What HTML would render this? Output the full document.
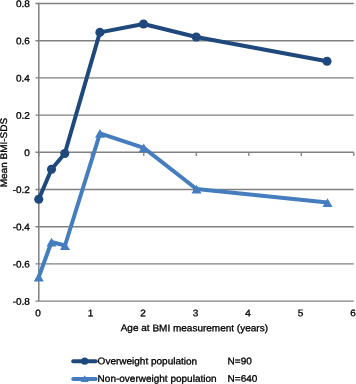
<!DOCTYPE html>
<html><head><meta charset="utf-8"><title>Chart</title>
<style>
html,body{margin:0;padding:0;background:#fff;}
body{width:356px;height:384px;position:relative;overflow:hidden;font-family:"Liberation Sans",sans-serif;}
</style></head><body>
<svg width="356" height="384" viewBox="0 0 356 384" style="position:absolute;left:0;top:0;will-change:transform">
<line x1="35.5" y1="3.50" x2="353.7" y2="3.50" stroke="#808080" stroke-width="1.4"/>
<line x1="35.5" y1="40.70" x2="353.7" y2="40.70" stroke="#808080" stroke-width="1.4"/>
<line x1="35.5" y1="77.90" x2="353.7" y2="77.90" stroke="#808080" stroke-width="1.4"/>
<line x1="35.5" y1="115.10" x2="353.7" y2="115.10" stroke="#808080" stroke-width="1.4"/>
<line x1="35.5" y1="152.30" x2="353.7" y2="152.30" stroke="#808080" stroke-width="1.4"/>
<line x1="35.5" y1="189.50" x2="353.7" y2="189.50" stroke="#808080" stroke-width="1.4"/>
<line x1="35.5" y1="226.70" x2="353.7" y2="226.70" stroke="#808080" stroke-width="1.4"/>
<line x1="35.5" y1="263.90" x2="353.7" y2="263.90" stroke="#808080" stroke-width="1.4"/>
<line x1="35.5" y1="301.10" x2="353.7" y2="301.10" stroke="#808080" stroke-width="1.4"/>
<line x1="38.8" y1="2.8" x2="38.8" y2="301.4" stroke="#808080" stroke-width="1.5"/>
<line x1="38.80" y1="152.30" x2="38.80" y2="156.10" stroke="#808080" stroke-width="1.3"/>
<line x1="91.30" y1="152.30" x2="91.30" y2="156.10" stroke="#808080" stroke-width="1.3"/>
<line x1="143.80" y1="152.30" x2="143.80" y2="156.10" stroke="#808080" stroke-width="1.3"/>
<line x1="196.30" y1="152.30" x2="196.30" y2="156.10" stroke="#808080" stroke-width="1.3"/>
<line x1="248.80" y1="152.30" x2="248.80" y2="156.10" stroke="#808080" stroke-width="1.3"/>
<line x1="301.30" y1="152.30" x2="301.30" y2="156.10" stroke="#808080" stroke-width="1.3"/>
<line x1="353.80" y1="152.30" x2="353.80" y2="156.10" stroke="#808080" stroke-width="1.3"/>
<polyline points="38.75,277 51.5,242 65,245.5 100,133.4 143.75,147.9 196.5,189 327.5,202.5" fill="none" stroke="#457DBF" stroke-width="4" stroke-linejoin="round" stroke-linecap="round"/>
<polygon points="38.75,272.7 43.75,281.4 33.75,281.4" fill="#457DBF"/>
<polygon points="51.5,237.7 56.5,246.4 46.5,246.4" fill="#457DBF"/>
<polygon points="65,241.2 70,249.9 60,249.9" fill="#457DBF"/>
<polygon points="100,129.1 105,137.8 95,137.8" fill="#457DBF"/>
<polygon points="143.75,143.6 148.75,152.3 138.75,152.3" fill="#457DBF"/>
<polygon points="196.5,184.7 201.5,193.4 191.5,193.4" fill="#457DBF"/>
<polygon points="327.5,198.2 332.5,206.9 322.5,206.9" fill="#457DBF"/>
<polyline points="38.75,199.25 51.5,169.25 64.8,153.5 99.9,32.4 143.5,24 196.25,37 327,61.25" fill="none" stroke="#1F497D" stroke-width="4" stroke-linejoin="round" stroke-linecap="round"/>
<circle cx="38.75" cy="199.25" r="4.55" fill="#1F497D"/>
<circle cx="51.5" cy="169.25" r="4.55" fill="#1F497D"/>
<circle cx="64.8" cy="153.5" r="4.55" fill="#1F497D"/>
<circle cx="99.9" cy="32.4" r="4.55" fill="#1F497D"/>
<circle cx="143.5" cy="24" r="4.55" fill="#1F497D"/>
<circle cx="196.25" cy="37" r="4.55" fill="#1F497D"/>
<circle cx="327" cy="61.25" r="4.55" fill="#1F497D"/>
<line x1="73.2" y1="361.2" x2="95.8" y2="361.2" stroke="#1F497D" stroke-width="3.9" stroke-linecap="round"/>
<circle cx="84.7" cy="361.2" r="3.6" fill="#1F497D"/>
<line x1="73.2" y1="379" x2="95.8" y2="379" stroke="#457DBF" stroke-width="3.9" stroke-linecap="round"/>
<polygon points="84.7,375.3 88.7,382 80.7,382" fill="#457DBF"/>
<text transform="translate(29.90,7.10) rotate(0.05) scale(1,0.96)" text-anchor="end" font-family="Liberation Sans, sans-serif" font-size="10" fill="#000" stroke="#000" stroke-width="0.32" text-rendering="geometricPrecision">0.8</text>
<text transform="translate(29.90,44.30) rotate(0.05) scale(1,0.96)" text-anchor="end" font-family="Liberation Sans, sans-serif" font-size="10" fill="#000" stroke="#000" stroke-width="0.32" text-rendering="geometricPrecision">0.6</text>
<text transform="translate(29.90,81.50) rotate(0.05) scale(1,0.96)" text-anchor="end" font-family="Liberation Sans, sans-serif" font-size="10" fill="#000" stroke="#000" stroke-width="0.32" text-rendering="geometricPrecision">0.4</text>
<text transform="translate(29.90,118.70) rotate(0.05) scale(1,0.96)" text-anchor="end" font-family="Liberation Sans, sans-serif" font-size="10" fill="#000" stroke="#000" stroke-width="0.32" text-rendering="geometricPrecision">0.2</text>
<text transform="translate(29.90,155.90) rotate(0.05) scale(1,0.96)" text-anchor="end" font-family="Liberation Sans, sans-serif" font-size="10" fill="#000" stroke="#000" stroke-width="0.32" text-rendering="geometricPrecision">0</text>
<text transform="translate(29.90,193.10) rotate(0.05) scale(1,0.96)" text-anchor="end" font-family="Liberation Sans, sans-serif" font-size="10" fill="#000" stroke="#000" stroke-width="0.32" text-rendering="geometricPrecision">-0.2</text>
<text transform="translate(29.90,230.30) rotate(0.05) scale(1,0.96)" text-anchor="end" font-family="Liberation Sans, sans-serif" font-size="10" fill="#000" stroke="#000" stroke-width="0.32" text-rendering="geometricPrecision">-0.4</text>
<text transform="translate(29.90,267.50) rotate(0.05) scale(1,0.96)" text-anchor="end" font-family="Liberation Sans, sans-serif" font-size="10" fill="#000" stroke="#000" stroke-width="0.32" text-rendering="geometricPrecision">-0.6</text>
<text transform="translate(29.90,304.70) rotate(0.05) scale(1,0.96)" text-anchor="end" font-family="Liberation Sans, sans-serif" font-size="10" fill="#000" stroke="#000" stroke-width="0.32" text-rendering="geometricPrecision">-0.8</text>
<text transform="translate(38.10,316.30) rotate(0.05) scale(1,0.96)" text-anchor="middle" font-family="Liberation Sans, sans-serif" font-size="10" fill="#000" stroke="#000" stroke-width="0.32" text-rendering="geometricPrecision">0</text>
<text transform="translate(90.60,316.30) rotate(0.05) scale(1,0.96)" text-anchor="middle" font-family="Liberation Sans, sans-serif" font-size="10" fill="#000" stroke="#000" stroke-width="0.32" text-rendering="geometricPrecision">1</text>
<text transform="translate(143.10,316.30) rotate(0.05) scale(1,0.96)" text-anchor="middle" font-family="Liberation Sans, sans-serif" font-size="10" fill="#000" stroke="#000" stroke-width="0.32" text-rendering="geometricPrecision">2</text>
<text transform="translate(195.60,316.30) rotate(0.05) scale(1,0.96)" text-anchor="middle" font-family="Liberation Sans, sans-serif" font-size="10" fill="#000" stroke="#000" stroke-width="0.32" text-rendering="geometricPrecision">3</text>
<text transform="translate(248.10,316.30) rotate(0.05) scale(1,0.96)" text-anchor="middle" font-family="Liberation Sans, sans-serif" font-size="10" fill="#000" stroke="#000" stroke-width="0.32" text-rendering="geometricPrecision">4</text>
<text transform="translate(300.60,316.30) rotate(0.05) scale(1,0.96)" text-anchor="middle" font-family="Liberation Sans, sans-serif" font-size="10" fill="#000" stroke="#000" stroke-width="0.32" text-rendering="geometricPrecision">5</text>
<text transform="translate(353.10,316.30) rotate(0.05) scale(1,0.96)" text-anchor="middle" font-family="Liberation Sans, sans-serif" font-size="10" fill="#000" stroke="#000" stroke-width="0.32" text-rendering="geometricPrecision">6</text>
<text transform="translate(120.70,331.10) rotate(0.05) scale(1,0.96)" font-family="Liberation Sans, sans-serif" font-size="10" fill="#000" stroke="#000" stroke-width="0.32" text-rendering="geometricPrecision">Age at BMI measurement (years)</text>
<text transform="translate(7.00,187.30) rotate(-90.05) scale(1,0.96)" font-family="Liberation Sans, sans-serif" font-size="10" fill="#000" stroke="#000" stroke-width="0.32" text-rendering="geometricPrecision">Mean BMI-SDS</text>
<text transform="translate(97.60,364.30) rotate(0.05) scale(1,0.96)" font-family="Liberation Sans, sans-serif" font-size="10" fill="#000" stroke="#000" stroke-width="0.32" text-rendering="geometricPrecision">Overweight population</text>
<text transform="translate(227.60,364.30) rotate(0.05) scale(1,0.96)" font-family="Liberation Sans, sans-serif" font-size="10" fill="#000" stroke="#000" stroke-width="0.32" text-rendering="geometricPrecision">N=90</text>
<text transform="translate(97.60,381.70) rotate(0.05) scale(1,0.96)" font-family="Liberation Sans, sans-serif" font-size="10" fill="#000" stroke="#000" stroke-width="0.32" text-rendering="geometricPrecision">Non-overweight population</text>
<text transform="translate(227.60,381.70) rotate(0.05) scale(1,0.96)" font-family="Liberation Sans, sans-serif" font-size="10" fill="#000" stroke="#000" stroke-width="0.32" text-rendering="geometricPrecision">N=640</text>
</svg>
</body></html>
